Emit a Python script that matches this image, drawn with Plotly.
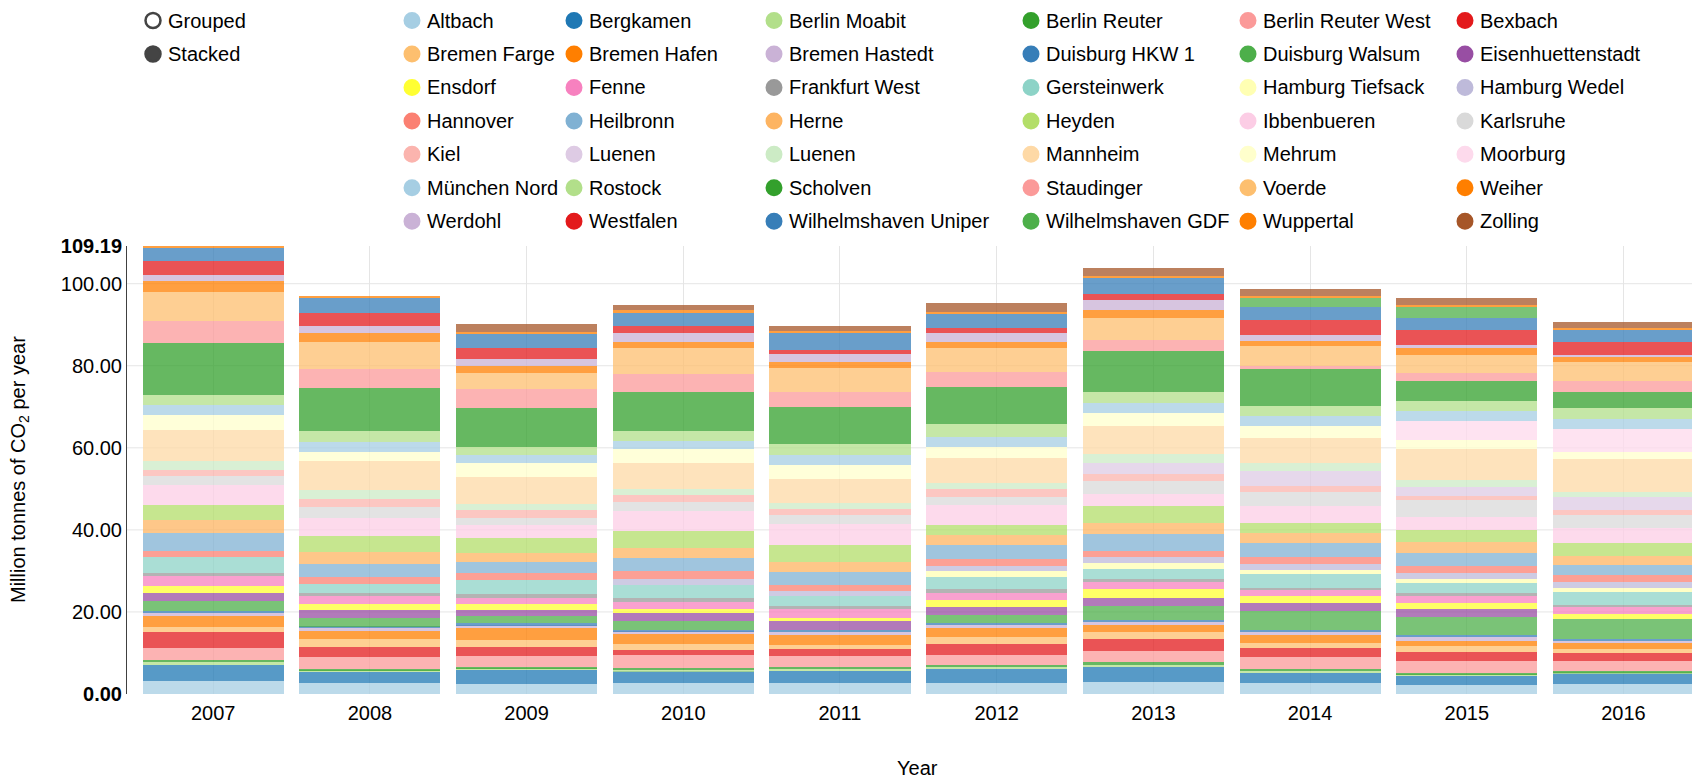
import plotly.graph_objects as go

# ---------------------------------------------------------------------------
# Data: CO2 emissions of German coal power plants, million tonnes per year
# ---------------------------------------------------------------------------
years = ["2007", "2008", "2009", "2010", "2011", "2012", "2013", "2014", "2015", "2016"]

altbach              = [3.20, 2.60, 2.50, 2.60, 2.60, 2.80, 3.00, 2.60, 2.20, 2.40]
bergkamen            = [3.90, 2.70, 3.40, 3.00, 3.10, 3.30, 3.60, 2.60, 2.30, 2.60]
berlin_moabit        = [0.60, 0.50, 0.30, 0.35, 0.50, 0.50, 0.50, 0.50, 0.30, 0.35]
berlin_reuter        = [0.50, 0.40, 0.30, 0.35, 0.50, 0.50, 0.60, 0.40, 0.40, 0.35]
berlin_reuter_west   = [3.00, 2.70, 2.70, 3.10, 2.50, 2.50, 2.80, 3.00, 2.80, 2.40]
bexbach              = [3.80, 2.60, 2.30, 1.30, 1.70, 2.70, 2.80, 2.00, 2.30, 1.90]
bremen_farge         = [1.40, 1.80, 1.70, 1.40, 1.10, 1.70, 1.80, 1.30, 1.30, 0.90]
bremen_hafen         = [2.50, 2.00, 2.80, 2.50, 2.30, 2.10, 1.80, 1.90, 1.40, 1.50]
bremen_hastedt       = [0.90, 0.80, 0.80, 0.70, 0.80, 0.60, 0.70, 0.80, 0.90, 0.60]
duisburg_hkw1        = [0.50, 0.30, 0.40, 0.40, 0.50, 0.50, 0.50, 0.60, 0.40, 0.50]
duisburg_walsum      = [2.30, 2.10, 1.90, 2.10, 0.00, 2.00, 3.40, 4.50, 4.40, 4.80]
eisenhuettenstadt    = [2.10, 2.00, 1.40, 1.90, 2.10, 1.90, 1.90, 1.90, 2.10, 0.00]
ensdorf              = [1.70, 1.40, 1.40, 1.00, 0.80, 1.70, 2.30, 1.80, 1.30, 1.10]
fenne                = [2.40, 1.90, 1.50, 1.70, 2.10, 1.90, 1.50, 1.50, 1.80, 1.70]
frankfurt_west       = [0.70, 0.70, 0.90, 1.00, 0.80, 0.80, 0.80, 0.50, 0.80, 0.60]
gersteinwerk         = [3.80, 2.30, 3.40, 3.20, 2.40, 3.10, 2.50, 3.30, 2.30, 3.10]
hamburg_tiefsack     = [0.00, 0.00, 0.00, 0.00, 0.00, 1.40, 1.40, 1.10, 1.10, 1.10]
hamburg_wedel        = [0.00, 0.00, 0.00, 1.40, 1.30, 1.30, 1.50, 1.40, 1.50, 1.40]
hannover             = [1.50, 1.60, 1.80, 1.90, 1.50, 1.70, 1.40, 1.70, 1.70, 1.80]
heilbronn            = [4.40, 3.30, 2.60, 3.20, 3.10, 3.40, 4.20, 3.30, 3.10, 2.30]
herne                = [3.30, 2.80, 2.20, 2.50, 2.50, 2.30, 2.70, 2.60, 2.70, 2.30]
heyden               = [3.60, 4.00, 3.80, 4.10, 4.10, 2.50, 4.20, 2.30, 2.80, 3.00]
ibbenbueren          = [4.80, 4.40, 3.10, 4.80, 5.10, 4.80, 2.80, 4.20, 3.30, 3.70]
karlsruhe            = [2.30, 2.60, 1.80, 2.20, 2.30, 2.10, 3.30, 3.50, 4.00, 3.20]
kiel                 = [1.40, 2.00, 1.90, 1.90, 1.30, 1.90, 1.70, 1.40, 1.10, 1.20]
luenen_a             = [0.00, 0.00, 0.00, 0.00, 0.00, 0.00, 2.70, 3.70, 2.10, 3.20]
luenen_b             = [2.30, 2.20, 1.30, 1.40, 1.50, 1.50, 2.00, 1.80, 1.80, 1.30]
mannheim             = [7.55, 7.00, 6.80, 6.40, 6.00, 6.10, 6.80, 6.30, 7.40, 7.90]
mehrum               = [3.50, 2.30, 3.20, 3.20, 3.20, 2.50, 3.30, 2.80, 2.30, 1.80]
moorburg             = [0.00, 0.00, 0.00, 0.00, 0.00, 0.00, 0.00, 0.00, 4.60, 5.50]
muenchen_nord        = [2.40, 2.50, 2.10, 2.10, 2.50, 2.50, 2.50, 2.40, 2.50, 2.50]
rostock              = [2.50, 2.60, 1.90, 2.50, 2.70, 3.10, 2.50, 2.60, 2.30, 2.70]
scholven             = [12.64, 10.50, 9.60, 9.40, 9.00, 9.20, 10.20, 8.80, 4.90, 4.00]
staudinger           = [5.30, 4.60, 4.60, 4.50, 3.80, 3.60, 2.50, 0.80, 2.10, 2.50]
voerde               = [7.15, 6.60, 3.80, 6.20, 5.80, 5.80, 5.40, 4.80, 4.40, 4.80]
weiher               = [2.70, 2.10, 1.70, 1.50, 1.50, 1.50, 2.10, 1.30, 1.70, 1.10]
werdohl              = [1.60, 1.90, 1.80, 2.10, 1.90, 2.30, 2.30, 1.40, 0.60, 0.60]
westfalen            = [3.40, 3.10, 2.70, 1.80, 0.90, 1.10, 1.40, 3.80, 3.80, 3.20]
wilhelmshaven_uniper = [3.10, 3.70, 3.40, 3.20, 4.20, 3.50, 4.00, 3.20, 2.80, 2.70]
wilhelmshaven_gdf    = [0.00, 0.00, 0.00, 0.00, 0.00, 0.00, 0.00, 2.10, 2.70, 0.00]
wuppertal            = [0.45, 0.30, 0.50, 0.60, 0.40, 0.50, 0.50, 0.50, 0.50, 0.60]
zolling              = [0.00, 0.00, 1.90, 1.30, 1.20, 2.10, 1.90, 1.80, 1.60, 1.50]

plant_names = [
    "Altbach", "Bergkamen", "Berlin Moabit", "Berlin Reuter", "Berlin Reuter West", "Bexbach",
    "Bremen Farge", "Bremen Hafen", "Bremen Hastedt", "Duisburg HKW 1", "Duisburg Walsum", "Eisenhuettenstadt",
    "Ensdorf", "Fenne", "Frankfurt West", "Gersteinwerk", "Hamburg Tiefsack", "Hamburg Wedel",
    "Hannover", "Heilbronn", "Herne", "Heyden", "Ibbenbueren", "Karlsruhe",
    "Kiel", "Luenen", "Luenen", "Mannheim", "Mehrum", "Moorburg",
    "München Nord", "Rostock", "Scholven", "Staudinger", "Voerde", "Weiher",
    "Werdohl", "Westfalen", "Wilhelmshaven Uniper", "Wilhelmshaven GDF", "Wuppertal", "Zolling",
]

plant_values = [
    altbach, bergkamen, berlin_moabit, berlin_reuter, berlin_reuter_west, bexbach,
    bremen_farge, bremen_hafen, bremen_hastedt, duisburg_hkw1, duisburg_walsum, eisenhuettenstadt,
    ensdorf, fenne, frankfurt_west, gersteinwerk, hamburg_tiefsack, hamburg_wedel,
    hannover, heilbronn, herne, heyden, ibbenbueren, karlsruhe,
    kiel, luenen_a, luenen_b, mannheim, mehrum, moorburg,
    muenchen_nord, rostock, scholven, staudinger, voerde, weiher,
    werdohl, westfalen, wilhelmshaven_uniper, wilhelmshaven_gdf, wuppertal, zolling,
]

plant_colors = [
    "#a6cee3", "#1f78b4", "#b2df8a", "#33a02c", "#fb9a99", "#e31a1c",
    "#fdbf6f", "#ff7f00", "#cab2d6", "#377eb8", "#4daf4a", "#984ea3",
    "#ffff33", "#f781bf", "#999999", "#8dd3c7", "#ffffb3", "#bebada",
    "#fb8072", "#80b1d3", "#fdb462", "#b3de69", "#fccde5", "#d9d9d9",
    "#fbb4ae", "#decbe4", "#ccebc5", "#fed9a6", "#ffffcc", "#fddaec",
    "#a6cee3", "#b2df8a", "#33a02c", "#fb9a99", "#fdbf6f", "#ff7f00",
    "#cab2d6", "#e31a1c", "#377eb8", "#4daf4a", "#ff7f00", "#a65628",
]

y_grid_ticks = [20, 40, 60, 80, 100]

# ---------------------------------------------------------------------------
# Geometry (pixels)
# ---------------------------------------------------------------------------
FIG_W, FIG_H = 1692, 781
PLOT_L, PLOT_T, PLOT_B = 127, 246, 694
PLOT_W = FIG_W - PLOT_L
PLOT_H = PLOT_B - PLOT_T
BAND_PX = 156.7                     # width of one year band
X0 = -0.55                          # left edge of x range in category units
FONT = "Liberation Sans, Arial, sans-serif"


def paper_x(px):
    return (px - PLOT_L) / PLOT_W


def paper_y(py):
    return (PLOT_B - py) / PLOT_H


totals = [sum(col) for col in zip(*plant_values)]
y_max = round(max(totals), 2)

fig = go.Figure()
for name, vals, col in zip(plant_names, plant_values, plant_colors):
    fig.add_trace(go.Bar(
        x=years, y=vals, name=name,
        marker=dict(color=col, opacity=0.75, line=dict(width=0)),
        hovertemplate=name + "<br>%{x}: %{y:.2f}<extra></extra>",
        showlegend=False,
    ))

shapes = []
# horizontal grid lines
for v in y_grid_ticks:
    shapes.append(dict(type="line", xref="paper", yref="y", x0=0, x1=1, y0=v, y1=v,
                       line=dict(color="#e5e5e5", width=1), layer="below"))

annotations = []

# legend: 6 columns x 7 rows of circles and names
legend_cols = [412, 574, 774, 1031, 1248, 1465]
legend_rows = [20.5, 54.0, 87.4, 120.9, 154.3, 187.8, 221.2]
R = 7.5
for i, (name, col) in enumerate(zip(plant_names, plant_colors)):
    cx = legend_cols[i % 6]
    cy = legend_rows[i // 6]
    shapes.append(dict(type="circle", xref="paper", yref="paper",
                       x0=paper_x(cx - R), x1=paper_x(cx + R),
                       y0=paper_y(cy + R), y1=paper_y(cy - R),
                       fillcolor=col, line=dict(color=col, width=2)))
    annotations.append(dict(text=name, xref="paper", yref="paper",
                            x=paper_x(cx + 13), y=paper_y(cy), xanchor="left", yanchor="middle",
                            showarrow=False, font=dict(family=FONT, size=20, color="#000")))

# grouped / stacked switch
for label, cy, filled in [("Grouped", 20.5, False), ("Stacked", 54.0, True)]:
    cx = 153
    shapes.append(dict(type="circle", xref="paper", yref="paper",
                       x0=paper_x(cx - R), x1=paper_x(cx + R),
                       y0=paper_y(cy + R), y1=paper_y(cy - R),
                       fillcolor="#444444" if filled else "#ffffff",
                       line=dict(color="#444444", width=2.5)))
    annotations.append(dict(text=label, xref="paper", yref="paper",
                            x=paper_x(cx + 13), y=paper_y(cy), xanchor="left", yanchor="middle",
                            showarrow=False, font=dict(family=FONT, size=20, color="#000")))

# axis titles
annotations.append(dict(text="Million tonnes of CO<sub>2</sub> per year", textangle=-90,
                        xref="paper", yref="paper", x=paper_x(19), y=0.5,
                        xanchor="center", yanchor="middle", showarrow=False,
                        font=dict(family=FONT, size=20, color="#000")))
annotations.append(dict(text="Year", xref="paper", yref="paper",
                        x=paper_x(918), y=paper_y(781), xanchor="center", yanchor="bottom",
                        showarrow=False, font=dict(family=FONT, size=20, color="#000")))

y_tickvals = [0] + y_grid_ticks + [y_max]
y_ticktext = ["<b>%.2f</b>" % 0] + ["%.2f" % v for v in y_grid_ticks] + ["<b>%.2f</b>" % y_max]

fig.update_layout(
    width=FIG_W, height=FIG_H,
    margin=dict(l=PLOT_L, r=0, t=PLOT_T, b=FIG_H - PLOT_B, autoexpand=False),
    paper_bgcolor="#ffffff", plot_bgcolor="#ffffff",
    barmode="stack", bargap=0.1,
    font=dict(family=FONT, size=20, color="#000"),
    showlegend=False,
    xaxis=dict(type="category", range=[X0, X0 + PLOT_W / BAND_PX],
               showgrid=True, gridcolor="#e5e5e5", gridwidth=1,
               showline=False, zeroline=False, ticks="", ticklabelstandoff=5,
               tickfont=dict(family=FONT, size=20, color="#000")),
    yaxis=dict(range=[0, y_max], tickvals=y_tickvals, ticktext=y_ticktext,
               showgrid=False, zeroline=False,
               showline=True, linecolor="#404040", linewidth=1, ticks="",
               tickfont=dict(family=FONT, size=20, color="#000")),
    shapes=shapes,
    annotations=annotations,
)

fig.write_html("out.html")
